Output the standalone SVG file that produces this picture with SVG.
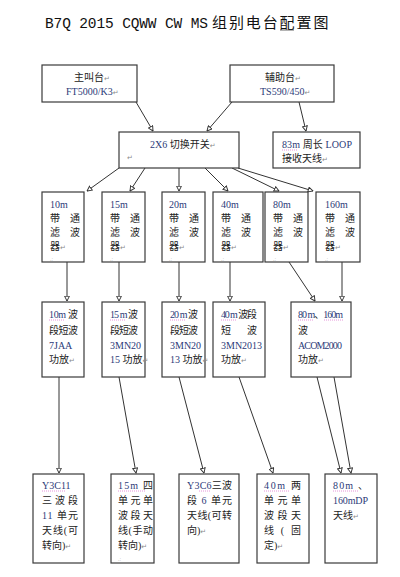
<svg xmlns="http://www.w3.org/2000/svg" width="400" height="577" viewBox="0 0 400 577">
<defs>
<marker id="ah" viewBox="0 0 10 10" refX="9" refY="5" markerWidth="6" markerHeight="6" orient="auto" markerUnits="userSpaceOnUse">
<path d="M1,1 L9,5 L1,9 z" fill="#fff" stroke="#333" stroke-width="1.6"/>
</marker>
<style>
.box{fill:#fff;stroke:#3a3a3a;stroke-width:1.2}
.t{font-family:"Liberation Serif","Noto Sans CJK SC",serif;font-size:10px;fill:#222}
.en{fill:#2c3a78}
.pm{font-family:"DejaVu Sans",sans-serif;font-size:7px;fill:#8a8a8a}
.dot{font-family:"DejaVu Sans",sans-serif;font-size:5px;fill:#9a9a9a}
.ul{stroke:#e07ad0;stroke-width:0.8;stroke-dasharray:1 1;fill:none}
.c{stroke:#333;stroke-width:1;fill:none;marker-end:url(#ah)}
</style>
</defs>
<rect width="400" height="577" fill="#fff"/>
<g id="title">
<text x="45" y="28" font-family="Liberation Mono,monospace" font-size="14.5" fill="#111" textLength="163" lengthAdjust="spacing">B7Q 2015 CQWW CW MS</text>
<text x="212" y="28" font-family="Noto Sans CJK SC,sans-serif" font-size="15" fill="#111" letter-spacing="1.9">组别电台配置图</text>
<line x1="280" y1="30" x2="294" y2="30" stroke="#444" stroke-width="0.8"/>
</g>
<g id="connectors">
<line class="c" x1="136" y1="102" x2="153" y2="131"/>
<line class="c" x1="232" y1="102" x2="207" y2="131"/>
<line class="c" x1="299" y1="102" x2="306" y2="131"/>
<line class="c" x1="119" y1="168" x2="87" y2="191"/>
<line class="c" x1="145" y1="168" x2="130" y2="191"/>
<line class="c" x1="179" y1="168" x2="179" y2="191"/>
<line class="c" x1="205" y1="168" x2="228" y2="191"/>
<line class="c" x1="232" y1="168" x2="279" y2="191"/>
<line class="c" x1="238" y1="168" x2="313" y2="191"/>
<line class="c" x1="67" y1="262" x2="67" y2="301"/>
<line class="c" x1="119" y1="262" x2="119" y2="301"/>
<line class="c" x1="179" y1="262" x2="179" y2="301"/>
<line class="c" x1="230" y1="262" x2="230" y2="301"/>
<line class="c" x1="289" y1="262" x2="315" y2="301"/>
<line class="c" x1="342" y1="262" x2="342" y2="301"/>
<line class="c" x1="59" y1="377" x2="59" y2="473"/>
<line class="c" x1="119" y1="377" x2="136" y2="473"/>
<line class="c" x1="179" y1="377" x2="204" y2="473"/>
<line class="c" x1="239" y1="377" x2="273" y2="473"/>
<line class="c" x1="317" y1="377" x2="341" y2="473"/>
<line class="c" x1="334" y1="377" x2="351" y2="473"/>
</g>
<g id="main-rig">
<rect class="box" x="42" y="65" width="95" height="37"/>
<text class="t" x="74" y="81">主叫台<tspan class="pm">↵</tspan></text>
<text class="t" x="66" y="95"><tspan class="en">FT5000/K3</tspan><tspan class="pm">↵</tspan></text>
</g>
<g id="aux-rig">
<rect class="box" x="230" y="65" width="104" height="37"/>
<text class="t" x="265" y="81">辅助台<tspan class="pm">↵</tspan></text>
<text class="t" x="260" y="95"><tspan class="en">TS590/450</tspan><tspan class="pm">↵</tspan></text>
</g>
<g id="switch">
<rect class="box" x="119" y="132" width="120" height="36"/>
<text class="t" x="150" y="148"><tspan class="en">2X6</tspan> 切换开关<tspan class="pm">↵</tspan></text>
<text class="pm" x="127" y="160">↵</text>
</g>
<g id="loop">
<rect class="box" x="273" y="132" width="87" height="36"/>
<text class="t" x="282" y="148" textLength="70" lengthAdjust="spacing"><tspan class="en">83m</tspan> 周长 <tspan class="en">LOOP</tspan></text>
<line class="ul" x1="282" y1="150" x2="297" y2="150"/>
<text class="t" x="282" y="162">接收天线<tspan class="pm">↵</tspan></text>
</g>
<g id="filter-10m">
<rect class="box" x="42" y="192" width="42" height="70"/>
<text class="t en" x="50" y="208">10m</text>
<text class="t" x="50 70" y="222">带通</text>
<text class="t" x="50 70" y="236">滤波</text>
<text class="t" x="50" y="250">器<tspan class="pm">↵</tspan></text>
<text class="dot" x="50" y="261">.:</text>
</g>
<g id="filter-15m">
<rect class="box" x="102" y="192" width="43" height="70"/>
<text class="t en" x="110" y="208">15m</text>
<text class="t" x="110 130" y="222">带通</text>
<text class="t" x="110 130" y="236">滤波</text>
<text class="t" x="110" y="250">器<tspan class="pm">↵</tspan></text>
<text class="dot" x="110" y="261">.:</text>
</g>
<g id="filter-20m">
<rect class="box" x="162" y="192" width="43" height="70"/>
<text class="t en" x="169" y="208">20m</text>
<text class="t" x="169 189" y="222">带通</text>
<text class="t" x="169 189" y="236">滤波</text>
<text class="t" x="169" y="250">器<tspan class="pm">↵</tspan></text>
<text class="dot" x="169" y="261">.:</text>
</g>
<g id="filter-40m">
<rect class="box" x="213" y="192" width="50" height="70"/>
<text class="t en" x="221" y="208">40m</text>
<text class="t" x="221 241" y="222">带通</text>
<text class="t" x="221 241" y="236">滤波</text>
<text class="t" x="221" y="250">器<tspan class="pm">↵</tspan></text>
<text class="dot" x="221" y="261">.:</text>
</g>
<g id="filter-80m">
<rect class="box" x="265" y="192" width="43" height="70"/>
<text class="t en" x="273" y="208">80m</text>
<text class="t" x="273 293" y="222">带通</text>
<text class="t" x="273 293" y="236">滤波</text>
<text class="t" x="273" y="250">器<tspan class="pm">↵</tspan></text>
<text class="dot" x="273" y="261">.:</text>
</g>
<g id="filter-160m">
<rect class="box" x="316" y="192" width="44" height="70"/>
<text class="t en" x="325" y="208">160m</text>
<text class="t" x="325 345" y="222">带通</text>
<text class="t" x="325 345" y="236">滤波</text>
<text class="t" x="325" y="250">器<tspan class="pm">↵</tspan></text>
<text class="dot" x="325" y="261">.:</text>
</g>
<g id="amp-10m">
<rect class="box" x="42" y="302" width="42" height="75"/>
<text class="t" x="49" y="318" textLength="29" lengthAdjust="spacing"><tspan class="en">10m</tspan> 波</text>
<line class="ul" x1="49" y1="320" x2="64" y2="320"/>
<text class="t" x="49" y="334" textLength="29" lengthAdjust="spacing">段短波</text>
<text class="t en" x="49" y="349">7JAA</text>
<text class="t" x="49" y="363">功放<tspan class="pm">↵</tspan></text>
</g>
<g id="amp-15m">
<rect class="box" x="102" y="302" width="43" height="75"/>
<text class="t" x="110" y="318" textLength="28" lengthAdjust="spacing"><tspan class="en">15 m</tspan> 波</text>
<line class="ul" x1="110" y1="320" x2="126" y2="320"/>
<text class="t" x="110" y="334" textLength="28" lengthAdjust="spacing">段短波</text>
<text class="t en" x="110" y="349">3MN20</text>
<text class="t" x="110" y="363"><tspan class="en">15</tspan> 功放<tspan class="pm">↵</tspan></text>
</g>
<g id="amp-20m">
<rect class="box" x="162" y="302" width="43" height="75"/>
<text class="t" x="170" y="318" textLength="28" lengthAdjust="spacing"><tspan class="en">20 m</tspan> 波</text>
<line class="ul" x1="170" y1="320" x2="186" y2="320"/>
<text class="t" x="170" y="334" textLength="28" lengthAdjust="spacing">段短波</text>
<text class="t en" x="170" y="349">3MN20</text>
<text class="t" x="170" y="363"><tspan class="en">13</tspan> 功放<tspan class="pm">↵</tspan></text>
</g>
<g id="amp-40m">
<rect class="box" x="213" y="302" width="52" height="75"/>
<text class="t" x="221" y="318" textLength="36" lengthAdjust="spacing"><tspan class="en">40 m</tspan> 波段</text>
<line class="ul" x1="221" y1="320" x2="237" y2="320"/>
<text class="t" x="221 247" y="334">短波</text>
<text class="t en" x="221" y="349">3MN2013</text>
<text class="t" x="221" y="363">功放<tspan class="pm">↵</tspan></text>
</g>
<g id="amp-80-160m">
<rect class="box" x="291" y="302" width="60" height="75"/>
<text class="t" x="298" y="318" textLength="45" lengthAdjust="spacing"><tspan class="en">80 m</tspan>、<tspan class="en">160m</tspan></text>
<line class="ul" x1="298" y1="320" x2="314" y2="320"/>
<line class="ul" x1="324" y1="320" x2="343" y2="320"/>
<text class="t" x="298" y="334">波</text>
<text class="t en" x="298" y="349" textLength="44" lengthAdjust="spacing">ACOM2000</text>
<text class="t" x="298" y="363">功放<tspan class="pm">↵</tspan></text>
</g>
<g id="ant-10-15-20m">
<rect class="box" x="33" y="474" width="51" height="89"/>
<text class="t en" x="42" y="489">Y3C11</text>
<line class="ul" x1="42" y1="491" x2="66" y2="491"/>
<text class="t" x="42" y="504" textLength="36" lengthAdjust="spacing">三 波 段</text>
<text class="t" x="42" y="519" textLength="36" lengthAdjust="spacing"><tspan class="en">11</tspan> 单元</text>
<text class="t" x="42" y="534" textLength="36" lengthAdjust="spacing">天线(可</text>
<text class="t" x="42" y="549">转向)<tspan class="pm">↵</tspan></text>
</g>
<g id="ant-15m">
<rect class="box" x="111" y="474" width="43" height="89"/>
<text class="t" x="118" y="489" textLength="35" lengthAdjust="spacing"><tspan class="en">15m</tspan>  四</text>
<line class="ul" x1="118" y1="491" x2="145" y2="491"/>
<text class="t" x="118" y="504" textLength="35" lengthAdjust="spacing">单 元 单</text>
<text class="t" x="118" y="519" textLength="35" lengthAdjust="spacing">波 段 天</text>
<text class="t" x="118" y="534" textLength="35" lengthAdjust="spacing">线(手动</text>
<text class="t" x="118" y="549">转向)<tspan class="pm">↵</tspan></text>
<text class="dot" x="118" y="561">.:</text>
</g>
<g id="ant-y3c6">
<rect class="box" x="179" y="474" width="60" height="89"/>
<text class="t" x="187" y="489" textLength="45" lengthAdjust="spacing"><tspan class="en">Y3C6</tspan>三波</text>
<line class="ul" x1="199" y1="491" x2="211" y2="491"/>
<text class="t" x="187" y="504" textLength="45" lengthAdjust="spacing">段 <tspan class="en">6</tspan> 单元</text>
<text class="t" x="187" y="519" textLength="45" lengthAdjust="spacing">天线(可转</text>
<text class="t" x="187" y="534">向)<tspan class="pm">↵</tspan></text>
</g>
<g id="ant-40m">
<rect class="box" x="257" y="474" width="52" height="89"/>
<text class="t" x="264" y="489" textLength="37" lengthAdjust="spacing"><tspan class="en">40m</tspan>  两</text>
<line class="ul" x1="264" y1="491" x2="290" y2="491"/>
<text class="t" x="264" y="504" textLength="37" lengthAdjust="spacing">单 元 单</text>
<text class="t" x="264" y="519" textLength="37" lengthAdjust="spacing">波 段 天</text>
<text class="t" x="264" y="534" textLength="37" lengthAdjust="spacing">线 ( 固</text>
<text class="t" x="264" y="549">定)<tspan class="pm">↵</tspan></text>
</g>
<g id="ant-80-160m">
<rect class="box" x="325" y="474" width="52" height="89"/>
<text class="t" x="333" y="489" textLength="35" lengthAdjust="spacing"><tspan class="en">80m</tspan>  、</text>
<line class="ul" x1="333" y1="491" x2="359" y2="491"/>
<text class="t en" x="333" y="504" textLength="35" lengthAdjust="spacing">160mDP</text>
<text class="t" x="333" y="519">天线<tspan class="pm">↵</tspan></text>
</g>
</svg>
